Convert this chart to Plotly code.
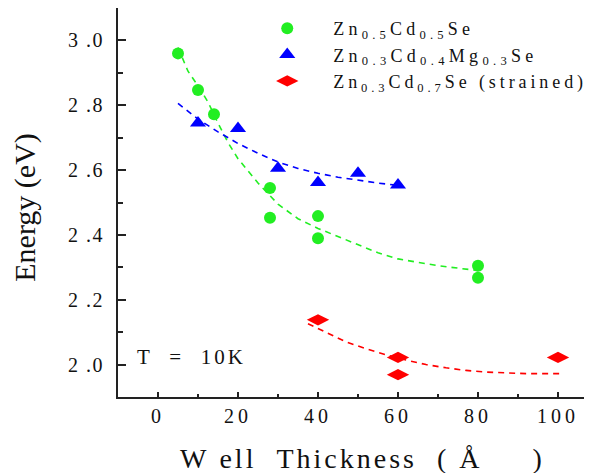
import plotly.graph_objects as go

# ---- data ----
green_x = [5, 10, 14, 28, 28, 40, 40, 80, 80]
green_y = [2.96, 2.847, 2.772, 2.545, 2.453, 2.458, 2.39, 2.305, 2.268]
blue_x = [10, 20, 30, 40, 50, 60]
blue_y = [2.745, 2.728, 2.606, 2.562, 2.59, 2.554]
red_x = [40, 60, 60, 100]
red_y = [2.138, 2.022, 1.969, 2.022]

green_fit_x = [5, 7.5, 10, 12.5, 15, 17.5, 20, 25, 30, 35, 40, 45, 50, 55, 60, 70, 80]
green_fit_y = [2.978, 2.905, 2.86, 2.81, 2.745, 2.685, 2.635, 2.56, 2.495, 2.45, 2.42,
               2.395, 2.37, 2.345, 2.326, 2.305, 2.29]
blue_fit_x = [5, 10, 15, 20, 25, 30, 35, 40, 45, 50, 55, 60]
blue_fit_y = [2.806, 2.757, 2.718, 2.682, 2.652, 2.625, 2.605, 2.59, 2.578, 2.568, 2.56, 2.553]
red_fit_x = [37.5, 42, 47, 52, 57, 62, 67, 72, 77, 82, 87, 92, 97, 101]
red_fit_y = [2.126, 2.10, 2.07, 2.049, 2.03, 2.014, 2.0, 1.99, 1.982, 1.977, 1.974,
             1.972, 1.972, 1.972]

NB = "\u00a0"


def spaced(text, px):
    return f'<span style="letter-spacing:{px}px">{text}</span>'


series_names = [
    spaced("Zn<sub>0.5</sub>Cd<sub>0.5</sub>Se", 4.2),
    spaced("Zn<sub>0.3</sub>Cd<sub>0.4</sub>Mg<sub>0.3</sub>Se", 4.3),
    spaced("Zn<sub>0.3</sub>Cd<sub>0.7</sub>Se (strained)", 3.9),
]

x_tickvals = [0, 20, 40, 60, 80, 100]
x_ticktext = [spaced(t, 4) for t in ["0", "20", "40", "60", "80", "100"]]
y_tickvals = [2.0, 2.2, 2.4, 2.6, 2.8, 3.0]
y_ticktext = [spaced(t, 1.5) for t in [f"2{NB}.0", f"2{NB}.2", f"2{NB}.4", f"2{NB}.6",
                                       f"2{NB}.8", f"3{NB}.0"]]

x_title = spaced(f"W{NB}ell{NB * 2}Thickness{NB * 2}({NB}Å{NB * 5})", 3)
y_title = "Energy (eV)"
note = spaced(f"T{NB}{NB}={NB}{NB}10K", 3)

GREEN = "#22ee22"
BLUE = "#0000ff"
RED = "#ff0000"
FONT = "Liberation Serif, Times New Roman, serif"
AX = "#222222"

fig = go.Figure()

for fx, fy, c in [(green_fit_x, green_fit_y, GREEN), (blue_fit_x, blue_fit_y, BLUE),
                  (red_fit_x, red_fit_y, RED)]:
    fig.add_trace(go.Scatter(x=fx, y=fy, mode="lines", showlegend=False,
                             line=dict(color=c, width=1.6, dash="6px,5px"),
                             hoverinfo="skip"))

fig.add_trace(go.Scatter(x=green_x, y=green_y, mode="markers", name=series_names[0],
                         marker=dict(symbol="circle", size=12, color=GREEN)))
fig.add_trace(go.Scatter(x=blue_x, y=blue_y, mode="markers", name=series_names[1],
                         marker=dict(symbol="triangle-up", size=14, color=BLUE)))
fig.add_trace(go.Scatter(x=red_x, y=red_y, mode="markers", name=series_names[2],
                         marker=dict(symbol="diamond-wide", size=16, color=RED)))

# invisible trace for right-side ticks
fig.add_trace(go.Scatter(x=[0], y=[2.0], yaxis="y2", mode="markers",
                         marker=dict(opacity=0), showlegend=False, hoverinfo="skip"))

fig.add_annotation(x=0.036, y=0.103, xref="paper", yref="paper", xanchor="left",
                   yanchor="middle", showarrow=False, text=note,
                   font=dict(family=FONT, size=21, color="#111"))
# axis titles
fig.add_annotation(x=0.1266, y=-0.158, xref="paper", yref="paper", xanchor="left",
                   yanchor="middle", showarrow=False, text=x_title,
                   font=dict(family=FONT, size=28, color="#111"))
fig.add_annotation(x=-0.195, y=0.488, xref="paper", yref="paper", xanchor="center",
                   yanchor="middle", showarrow=False, text=y_title, textangle=-90,
                   font=dict(family=FONT, size=30, color="#111"))

# page body has an 8px margin, so the figure is sized to fit the 592x473 window
fig.update_layout(
    width=584, height=465,
    margin=dict(l=110, r=0, t=0, b=76, autoexpand=False),
    paper_bgcolor="white", plot_bgcolor="white",
    font=dict(family=FONT, color="#111"),
    showlegend=True,
    legend=dict(x=0.26, y=0.995, xanchor="left", yanchor="top",
                bgcolor="rgba(0,0,0,0)", font=dict(family=FONT, size=18),
                itemwidth=82),
    xaxis=dict(range=[-10, 108.5], tickvals=x_tickvals, ticktext=x_ticktext,
               automargin=False,
               ticks="inside", ticklen=5, tickwidth=1.5, tickcolor=AX,
               minor=dict(dtick=10, tick0=0, ticks="inside", ticklen=3, tickwidth=1.5,
                          tickcolor=AX),
               showline=True, linewidth=2, linecolor=AX, mirror=True,
               showgrid=False, zeroline=False,
               tickfont=dict(family=FONT, size=20)),
    yaxis=dict(range=[1.9, 3.1], tickvals=y_tickvals, ticktext=y_ticktext,
               automargin=False, ticklabelstandoff=8,
               ticks="inside", ticklen=8, tickwidth=1.5, tickcolor=AX,
               minor=dict(dtick=0.1, tick0=0, ticks="inside", ticklen=5, tickwidth=1.5,
                          tickcolor=AX),
               showline=True, linewidth=2, linecolor=AX, mirror=False,
               showgrid=False, zeroline=False,
               tickfont=dict(family=FONT, size=20)),
    yaxis2=dict(range=[1.9, 3.1], overlaying="y", side="right", anchor="x",
                automargin=False,
                tickvals=y_tickvals, showticklabels=False,
                ticks="inside", ticklen=8, tickwidth=1.5, tickcolor=AX,
                minor=dict(dtick=0.1, tick0=0, ticks="inside", ticklen=5, tickwidth=1.5,
                           tickcolor=AX),
                showline=False, showgrid=False, zeroline=False),
)

fig.write_html("out.html")
